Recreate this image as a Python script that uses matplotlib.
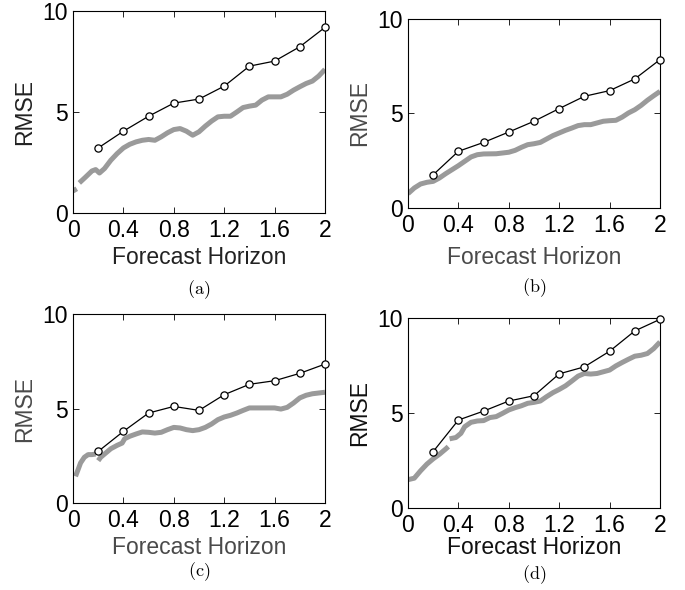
import numpy as np
import matplotlib
matplotlib.use("Agg")
import matplotlib.pyplot as plt

plt.rcParams["font.family"] = ["Liberation Sans", "DejaVu Sans"]
plt.rcParams["mathtext.fontset"] = "cm"

nan = np.nan

# black circles: full model at the 10 horizons
horizons = [0.2, 0.4, 0.6, 0.8, 1.0, 1.2, 1.4, 1.6, 1.8, 2.0]
a_black = [3.22, 4.05, 4.79, 5.44, 5.64, 6.28, 7.27, 7.52, 8.23, 9.19]
b_black = [1.76, 3.00, 3.47, 4.02, 4.59, 5.26, 5.91, 6.21, 6.83, 7.85]
c_black = [2.73, 3.79, 4.76, 5.11, 4.90, 5.73, 6.28, 6.47, 6.86, 7.35]
d_black = [2.97, 4.63, 5.10, 5.63, 5.91, 7.06, 7.43, 8.25, 9.32, 9.93]

# grey curves
a_gx = [0, 0.03, 0.04, 0.05, 0.1, 0.15, 0.18, 0.21, 0.25, 0.3, 0.35, 0.4, 0.45, 0.5,
        0.55, 0.6, 0.65, 0.7, 0.75, 0.8, 0.85, 0.9, 0.95, 1.0, 1.05, 1.1, 1.15, 1.2,
        1.25, 1.3, 1.35, 1.4, 1.45, 1.5, 1.55, 1.6, 1.65, 1.7, 1.75, 1.8, 1.85, 1.9,
        1.95, 2.0]
a_gy = [1.09, 1.2, nan, 1.49, 1.78, 2.08, 2.15, 1.98, 2.2, 2.61, 2.94, 3.22, 3.4, 3.52,
        3.6, 3.64, 3.6, 3.77, 3.97, 4.13, 4.18, 4.05, 3.85, 4.02, 4.3, 4.55, 4.76, 4.79,
        4.79, 5.0, 5.22, 5.29, 5.34, 5.59, 5.75, 5.75, 5.75, 5.88, 6.08, 6.25, 6.41, 6.53,
        6.78, 7.11]

b_gx = [0, 0.05, 0.1, 0.15, 0.2, 0.25, 0.3, 0.35, 0.4, 0.45, 0.5, 0.55, 0.6, 0.7, 0.8,
        0.85, 0.9, 0.95, 1.0, 1.05, 1.1, 1.15, 1.2, 1.25, 1.3, 1.35, 1.4, 1.45, 1.5,
        1.55, 1.6, 1.65, 1.7, 1.75, 1.8, 1.85, 1.9, 1.95, 2.0]
b_gy = [0.76, 1.06, 1.27, 1.36, 1.41, 1.59, 1.82, 2.03, 2.24, 2.47, 2.7, 2.82, 2.86, 2.87,
        2.95, 3.05, 3.21, 3.35, 3.4, 3.47, 3.65, 3.83, 3.97, 4.11, 4.23, 4.36, 4.41, 4.41,
        4.5, 4.59, 4.62, 4.64, 4.81, 5.03, 5.2, 5.43, 5.7, 5.94, 6.17]

c_gx = [0.02, 0.04, 0.06, 0.09, 0.12, 0.15, 0.18, 0.19, 0.2, 0.22, 0.25, 0.3, 0.35, 0.39,
        0.41, 0.45, 0.5, 0.55, 0.6, 0.65, 0.7, 0.75, 0.8, 0.85, 0.9, 0.95, 1.0, 1.05,
        1.1, 1.15, 1.2, 1.25, 1.3, 1.35, 1.4, 1.45, 1.5, 1.55, 1.6, 1.65, 1.7, 1.75,
        1.8, 1.85, 1.9, 1.95, 2.0]
c_gy = [1.41, 1.76, 2.12, 2.42, 2.56, 2.56, 2.59, nan, 2.24, 2.42, 2.59, 2.87, 3.05, 3.17,
        3.4, 3.53, 3.65, 3.76, 3.74, 3.7, 3.74, 3.88, 4.0, 3.97, 3.88, 3.83, 3.88, 4.0,
        4.18, 4.41, 4.55, 4.64, 4.76, 4.9, 5.03, 5.03, 5.03, 5.03, 5.03, 4.97, 5.06, 5.29,
        5.56, 5.7, 5.78, 5.82, 5.86]

d_gx = [0, 0.05, 0.1, 0.15, 0.2, 0.25, 0.3, 0.32, 0.325, 0.33, 0.38, 0.42, 0.45, 0.5,
        0.55, 0.6, 0.65, 0.7, 0.75, 0.8, 0.85, 0.9, 0.95, 1.0, 1.05, 1.1, 1.15, 1.2,
        1.25, 1.3, 1.35, 1.4, 1.45, 1.5, 1.55, 1.6, 1.65, 1.7, 1.75, 1.8, 1.85, 1.9,
        1.95, 2.0]
d_gy = [1.49, 1.57, 1.96, 2.31, 2.59, 2.83, 3.11, 3.23, nan, 3.64, 3.71, 3.93, 4.28, 4.51,
        4.58, 4.6, 4.76, 4.81, 4.98, 5.16, 5.28, 5.38, 5.51, 5.56, 5.63, 5.86, 6.07, 6.24,
        6.43, 6.68, 6.94, 7.08, 7.05, 7.08, 7.17, 7.26, 7.48, 7.66, 7.83, 7.99, 8.04, 8.13,
        8.39, 8.74]

xticks = [0, 0.4, 0.8, 1.2, 1.6, 2]
xticklabels = ["0", "0.4", "0.8", "1.2", "1.6", "2"]
yticks = [0, 5, 10]
panel_names = ["(a)", "(b)", "(c)", "(d)"]

W, H = 685, 590
fig = plt.figure(figsize=(W / 100, H / 100), dpi=100)

# pixel boxes (x0, y0, x1, y1) from the top-left, label colour, caption y
panels = [
    ((73, 11, 325, 213), "#222222", 290, a_gx, a_gy, a_black, 45),
    ((408, 19, 660, 208), "#4a4a4a", 288, b_gx, b_gy, b_black, 50),
    ((73, 314, 325, 503), "#4a4a4a", 572, c_gx, c_gy, c_black, 44),
    ((408, 318, 660, 508), "#111111", 575, d_gx, d_gy, d_black, 39),
]

for name, (box, lab_col, cap_y, gx, gy, black, xl_off) in zip(panel_names, panels):
    x0, y0, x1, y1 = box
    w, h = x1 - x0, y1 - y0
    ax = fig.add_axes([x0 / W, 1 - y1 / H, w / W, h / H])

    ax.plot(gx, gy, color="#9a9a9a", lw=3.6, solid_capstyle="butt",
            solid_joinstyle="round", zorder=2)
    ax.plot(horizons, black, color="black", lw=0.9, marker="o", ms=5.2,
            mfc="white", mec="black", mew=0.9, zorder=3, clip_on=False)

    ax.set_xlim(0, 2)
    ax.set_ylim(0, 10)
    ax.set_xticks(xticks)
    ax.set_xticklabels(xticklabels)
    ax.set_yticks(yticks)
    ax.tick_params(direction="in", top=True, right=True, length=4, width=0.6,
                   labelsize=16.5, pad=4)
    for s in ax.spines.values():
        s.set_linewidth(0.8)

    ax.set_xlabel("Forecast Horizon", fontsize=16.5, color=lab_col, va="center")
    ax.xaxis.set_label_coords(0.5, -xl_off / h)
    ax.set_ylabel("RMSE", fontsize=16.5, color=lab_col, va="center")
    ax.yaxis.set_label_coords(-48 / w, 0.5)

    fig.text((x0 + x1) / 2 / W, 1 - cap_y / H, r"$\mathrm{" + name + "}$",
             fontsize=13, ha="center", va="center")

fig.savefig("out.png", dpi=100)
